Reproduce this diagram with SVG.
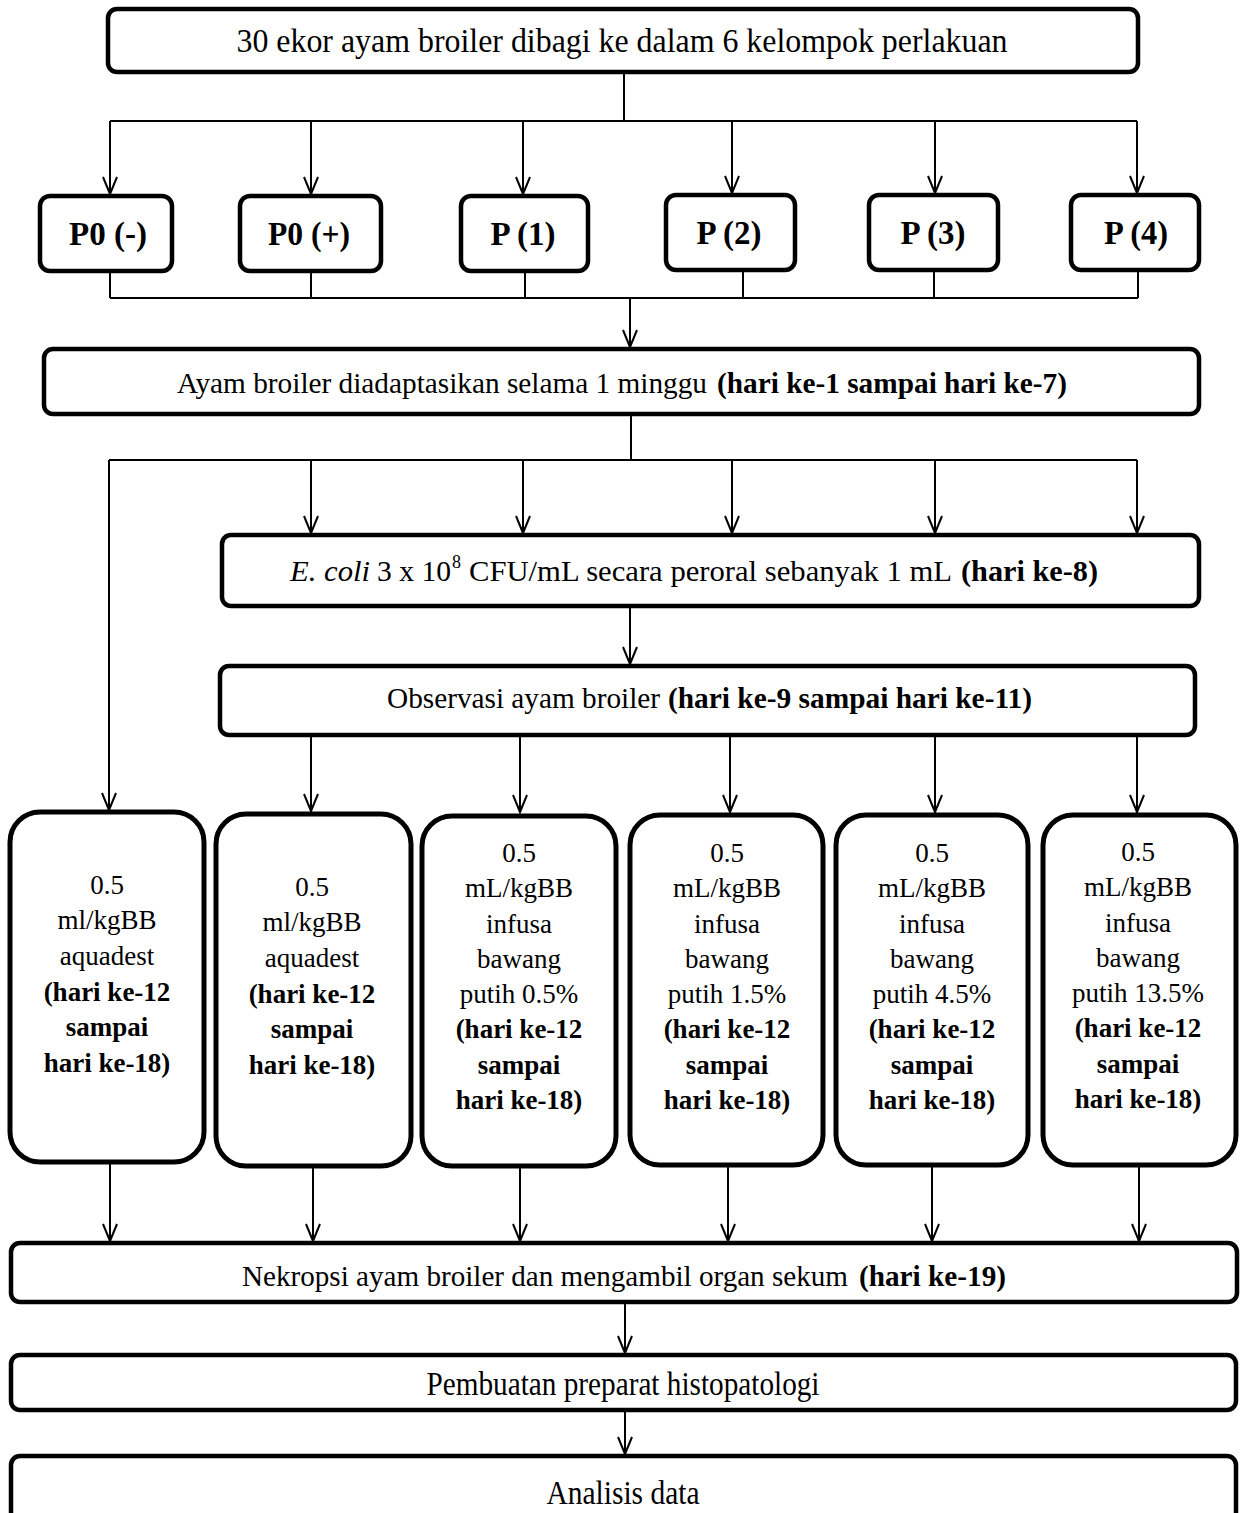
<svg xmlns="http://www.w3.org/2000/svg" width="1243" height="1513" viewBox="0 0 1243 1513">
<style>
.bg{fill:#fff}
.box{fill:#fff;stroke:#000;stroke-width:4.5}
.tall{fill:#fff;stroke:#000;stroke-width:5}
.t{font-family:"Liberation Serif","Times New Roman",serif;fill:#000;text-anchor:middle}
.s{font-family:"Liberation Serif","Times New Roman",serif;fill:#000;text-anchor:start;font-size:33px}
.n{font-size:30px}
.big{font-size:33px}
.pb{font-size:33px;font-weight:bold}
.sm{font-size:27px}
.b{font-weight:bold}
.i{font-style:italic}
.c{fill:none;stroke:#000;stroke-width:2}
.a{fill:none;stroke:#000;stroke-width:2;marker-end:url(#ah)}
</style>
<defs>
<marker id="ah" markerUnits="userSpaceOnUse" markerWidth="22" markerHeight="22" viewBox="0 0 22 22" refX="19" refY="11" orient="auto" overflow="visible">
<path d="M2,4 L19,11 L2,18" fill="none" stroke="#000" stroke-width="2"/>
</marker>
</defs>
<rect class="bg" x="0" y="0" width="1243" height="1513"/>

<g id="connectors">
<path class="c" d="M624,72 V121 M110,121 H1137"/>
<path class="a" d="M110,121 V194"/>
<path class="a" d="M311,121 V194"/>
<path class="a" d="M523,121 V194"/>
<path class="a" d="M732,121 V193"/>
<path class="a" d="M935,121 V193"/>
<path class="a" d="M1137,121 V193"/>
<path class="c" d="M110,272 V298 M311,272 V298 M525,272 V298 M743,271 V298 M934,271 V298 M1138,271 V298 M110,298 H1138"/>
<path class="a" d="M630,298 V347"/>
<path class="c" d="M631,415 V460 M109,460 H1137"/>
<path class="a" d="M311,460 V533"/>
<path class="a" d="M523,460 V533"/>
<path class="a" d="M732,460 V533"/>
<path class="a" d="M935,460 V533"/>
<path class="a" d="M1137,460 V533"/>
<path class="a" d="M109,460 V810"/>
<path class="a" d="M630,607 V664"/>
<path class="a" d="M311,736 V811"/>
<path class="a" d="M520,736 V812"/>
<path class="a" d="M730,736 V812"/>
<path class="a" d="M935,736 V812"/>
<path class="a" d="M1137,736 V812"/>
<path class="a" d="M110,1163 V1241"/>
<path class="a" d="M313,1167 V1241"/>
<path class="a" d="M520,1167 V1241"/>
<path class="a" d="M728,1166 V1241"/>
<path class="a" d="M932,1166 V1241"/>
<path class="a" d="M1139,1166 V1241"/>
<path class="a" d="M625,1302 V1353"/>
<path class="a" d="M625,1410 V1454"/>
</g>

<g id="n_start">
<rect class="box" x="108" y="9" width="1030" height="63" rx="9"/>
<text class="t big" x="622" y="52" textLength="771" lengthAdjust="spacingAndGlyphs">30 ekor ayam broiler dibagi ke dalam 6 kelompok perlakuan</text>
</g>

<g id="n_p0neg"><rect class="box" x="40" y="196" width="132" height="75" rx="10"/><text class="t pb" x="108" y="245" textLength="78" lengthAdjust="spacingAndGlyphs">P0 (-)</text></g>
<g id="n_p0pos"><rect class="box" x="240" y="196" width="141" height="75" rx="10"/><text class="t pb" x="309" y="245" textLength="82" lengthAdjust="spacingAndGlyphs">P0 (+)</text></g>
<g id="n_p1"><rect class="box" x="461" y="196" width="127" height="75" rx="10"/><text class="t pb" x="523" y="245" textLength="65" lengthAdjust="spacingAndGlyphs">P (1)</text></g>
<g id="n_p2"><rect class="box" x="666" y="195" width="129" height="75" rx="10"/><text class="t pb" x="729" y="244" textLength="65" lengthAdjust="spacingAndGlyphs">P (2)</text></g>
<g id="n_p3"><rect class="box" x="869" y="195" width="129" height="75" rx="10"/><text class="t pb" x="933" y="244" textLength="65" lengthAdjust="spacingAndGlyphs">P (3)</text></g>
<g id="n_p4"><rect class="box" x="1071" y="195" width="128" height="75" rx="10"/><text class="t pb" x="1136" y="244" textLength="64" lengthAdjust="spacingAndGlyphs">P (4)</text></g>

<g id="n_adapt">
<rect class="box" x="44" y="349" width="1155" height="65" rx="9"/>
<text class="s n" x="177" y="393" textLength="530" lengthAdjust="spacingAndGlyphs">Ayam broiler diadaptasikan selama 1 minggu</text>
<text class="s n b" x="717" y="393" textLength="350" lengthAdjust="spacingAndGlyphs">(hari ke-1 sampai hari ke-7)</text>
</g>

<g id="n_ecoli">
<rect class="box" x="222" y="535" width="977" height="71" rx="9"/>
<text class="s n i" x="290" y="581" textLength="80" lengthAdjust="spacingAndGlyphs">E. coli</text>
<text class="s n" x="377" y="581" textLength="74" lengthAdjust="spacingAndGlyphs">3 x 10</text>
<text class="s" x="452" y="568" style="font-size:18px">8</text>
<text class="s n" x="469" y="581" textLength="483" lengthAdjust="spacingAndGlyphs">CFU/mL secara peroral sebanyak 1 mL</text>
<text class="s n b" x="961" y="581" textLength="137" lengthAdjust="spacingAndGlyphs">(hari ke-8)</text>
</g>

<g id="n_obs">
<rect class="box" x="220" y="666" width="975" height="69" rx="9"/>
<text class="s n" x="387" y="708" textLength="273" lengthAdjust="spacingAndGlyphs">Observasi ayam broiler</text>
<text class="s n b" x="668" y="708" textLength="364" lengthAdjust="spacingAndGlyphs">(hari ke-9 sampai hari ke-11)</text>
</g>

<g id="n_t1">
<rect class="tall" x="10" y="812" width="194" height="350" rx="30"/>
<text class="t sm"><tspan x="107" y="894">0.5</tspan><tspan x="107" y="929">ml/kgBB</tspan><tspan x="107" y="965">aquadest</tspan><tspan x="107" y="1001" class="b">(hari ke-12</tspan><tspan x="107" y="1036" class="b">sampai</tspan><tspan x="107" y="1072" class="b">hari ke-18)</tspan></text>
</g>
<g id="n_t2">
<rect class="tall" x="216" y="814" width="195" height="352" rx="30"/>
<text class="t sm"><tspan x="312" y="896">0.5</tspan><tspan x="312" y="931">ml/kgBB</tspan><tspan x="312" y="967">aquadest</tspan><tspan x="312" y="1003" class="b">(hari ke-12</tspan><tspan x="312" y="1038" class="b">sampai</tspan><tspan x="312" y="1074" class="b">hari ke-18)</tspan></text>
</g>
<g id="n_t3">
<rect class="tall" x="422" y="816" width="194" height="350" rx="30"/>
<text class="t sm"><tspan x="519" y="862">0.5</tspan><tspan x="519" y="897">mL/kgBB</tspan><tspan x="519" y="933">infusa</tspan><tspan x="519" y="968">bawang</tspan><tspan x="519" y="1003">putih 0.5%</tspan><tspan x="519" y="1038" class="b">(hari ke-12</tspan><tspan x="519" y="1074" class="b">sampai</tspan><tspan x="519" y="1109" class="b">hari ke-18)</tspan></text>
</g>
<g id="n_t4">
<rect class="tall" x="630" y="815" width="193" height="350" rx="30"/>
<text class="t sm"><tspan x="727" y="862">0.5</tspan><tspan x="727" y="897">mL/kgBB</tspan><tspan x="727" y="933">infusa</tspan><tspan x="727" y="968">bawang</tspan><tspan x="727" y="1003">putih 1.5%</tspan><tspan x="727" y="1038" class="b">(hari ke-12</tspan><tspan x="727" y="1074" class="b">sampai</tspan><tspan x="727" y="1109" class="b">hari ke-18)</tspan></text>
</g>
<g id="n_t5">
<rect class="tall" x="836" y="815" width="192" height="350" rx="30"/>
<text class="t sm"><tspan x="932" y="862">0.5</tspan><tspan x="932" y="897">mL/kgBB</tspan><tspan x="932" y="933">infusa</tspan><tspan x="932" y="968">bawang</tspan><tspan x="932" y="1003">putih 4.5%</tspan><tspan x="932" y="1038" class="b">(hari ke-12</tspan><tspan x="932" y="1074" class="b">sampai</tspan><tspan x="932" y="1109" class="b">hari ke-18)</tspan></text>
</g>
<g id="n_t6">
<rect class="tall" x="1043" y="815" width="193" height="350" rx="30"/>
<text class="t sm"><tspan x="1138" y="861">0.5</tspan><tspan x="1138" y="896">mL/kgBB</tspan><tspan x="1138" y="932">infusa</tspan><tspan x="1138" y="967">bawang</tspan><tspan x="1138" y="1002">putih 13.5%</tspan><tspan x="1138" y="1037" class="b">(hari ke-12</tspan><tspan x="1138" y="1073" class="b">sampai</tspan><tspan x="1138" y="1108" class="b">hari ke-18)</tspan></text>
</g>

<g id="n_nekropsi">
<rect class="box" x="11" y="1243" width="1226" height="59" rx="9"/>
<text class="s n" x="242" y="1286" textLength="606" lengthAdjust="spacingAndGlyphs">Nekropsi ayam broiler dan mengambil organ sekum</text>
<text class="s n b" x="859" y="1286" textLength="147" lengthAdjust="spacingAndGlyphs">(hari ke-19)</text>
</g>
<g id="n_preparat">
<rect class="box" x="11" y="1355" width="1225" height="55" rx="9"/>
<text class="t big" x="623" y="1395" textLength="393" lengthAdjust="spacingAndGlyphs">Pembuatan preparat histopatologi</text>
</g>
<g id="n_analisis">
<rect class="box" x="11" y="1456" width="1225" height="80" rx="9"/>
<text class="t big" x="623" y="1504" textLength="153" lengthAdjust="spacingAndGlyphs">Analisis data</text>
</g>
</svg>
